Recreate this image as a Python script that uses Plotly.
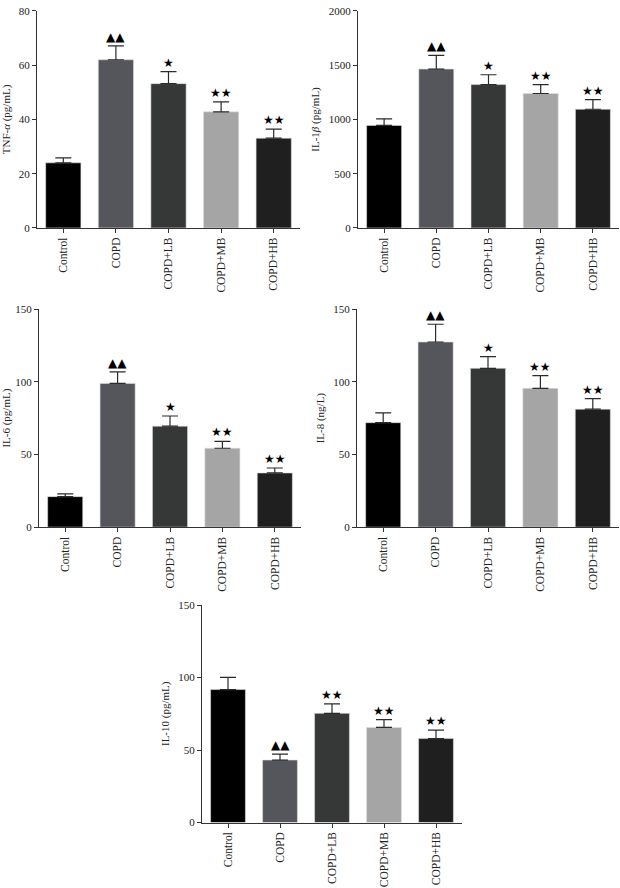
import plotly.graph_objects as go

groups = ["Control", "COPD", "COPD+LB", "COPD+MB", "COPD+HB"]
bar_colors = ["#000000", "#55565b", "#363737", "#a5a5a5", "#1f1f1f"]

tnf_mean = [24.0, 62.0, 53.2, 42.8, 33.1]
tnf_err = [1.8, 5.1, 4.4, 3.7, 3.3]
il1b_mean = [945, 1464, 1321, 1239, 1094]
il1b_err = [61, 127, 91, 82, 88]
il6_mean = [21.0, 98.9, 69.5, 54.3, 37.3]
il6_err = [1.9, 7.9, 7.0, 4.7, 3.4]
il8_mean = [71.9, 127.4, 109.3, 95.5, 81.2]
il8_err = [6.8, 12.2, 8.1, 8.8, 7.3]
il10_mean = [91.7, 43.1, 75.3, 65.6, 57.9]
il10_err = [8.4, 4.1, 6.6, 5.4, 5.9]

marks_a = ["", "▲▲", "★", "★★", "★★"]
marks_b = ["", "▲▲", "★★", "★★", "★★"]

panels = [
    dict(mean=tnf_mean, err=tnf_err, marks=marks_a, title="TNF-<i>α</i> (pg/mL)",
         yrange=[0, 80], dtick=20, x=[37, 300], y=[5, 225]),
    dict(mean=il1b_mean, err=il1b_err, marks=marks_a, title="IL-1<i>β</i> (pg/mL)",
         yrange=[0, 2000], dtick=500, x=[358, 619], y=[5, 225]),
    dict(mean=il6_mean, err=il6_err, marks=marks_a, title="IL-6 (pg/mL)",
         yrange=[0, 150], dtick=50, x=[39, 301], y=[307.3, 528.3]),
    dict(mean=il8_mean, err=il8_err, marks=marks_a, title="IL-8 (ng/L)",
         yrange=[0, 150], dtick=50, x=[357, 619], y=[307.3, 528.3]),
    dict(mean=il10_mean, err=il10_err, marks=marks_b, title="IL-10 (pg/mL)",
         yrange=[0, 150], dtick=50, x=[202, 462], y=[607.3, 827.7]),
]

W, H = 620, 888
FONT = "Liberation Serif"
fig = go.Figure()
layout = {}
annotations = []
for i, p in enumerate(panels, start=1):
    xa = "x" if i == 1 else f"x{i}"
    ya = "y" if i == 1 else f"y{i}"
    fig.add_trace(go.Bar(
        x=groups, y=p["mean"], xaxis=xa, yaxis=ya,
        marker=dict(color=bar_colors, line=dict(width=0.6, color="#dddddd")),
        error_y=dict(type="data", symmetric=False, array=p["err"],
                     arrayminus=[0] * len(groups), color="#2a2a2a",
                     thickness=1.2, width=8),
        showlegend=False, hoverinfo="skip",
    ))
    xkey = "xaxis" if i == 1 else f"xaxis{i}"
    ykey = "yaxis" if i == 1 else f"yaxis{i}"
    layout[xkey] = dict(
        domain=[p["x"][0] / W, p["x"][1] / W], anchor=ya,
        showline=True, linecolor="#333333", linewidth=1,
        ticks="outside", ticklen=4, tickcolor="#333333",
        tickangle=-90, tickfont=dict(family=FONT, size=11.5, color="#222222"),
        showgrid=False, zeroline=False,
    )
    layout[ykey] = dict(
        domain=[1 - p["y"][1] / H, 1 - p["y"][0] / H], anchor=xa,
        range=p["yrange"], dtick=p["dtick"],
        showline=True, linecolor="#333333", linewidth=1,
        ticks="outside", ticklen=4, tickcolor="#333333",
        tickfont=dict(family=FONT, size=11, color="#222222"),
        title=dict(text=p["title"], font=dict(family=FONT, size=11, color="#222222"), standoff=6),
        showgrid=False, zeroline=False,
    )
    for g, m, e, mk in zip(groups, p["mean"], p["err"], p["marks"]):
        if mk:
            annotations.append(dict(
                x=g, y=m + e, xref=xa, yref=ya, text=mk, showarrow=False,
                yanchor="bottom", yshift=0,
                font=dict(family="DejaVu Sans", size=12, color="#000000"),
            ))

fig.update_layout(
    width=W, height=H, margin=dict(l=0, r=0, t=0, b=0),
    paper_bgcolor="white", plot_bgcolor="white",
    bargap=0.33, annotations=annotations, **layout,
)
fig.write_html("out.html", config={"displayModeBar": False},
               post_script="document.body.style.margin='0';document.body.style.overflow='hidden';")
